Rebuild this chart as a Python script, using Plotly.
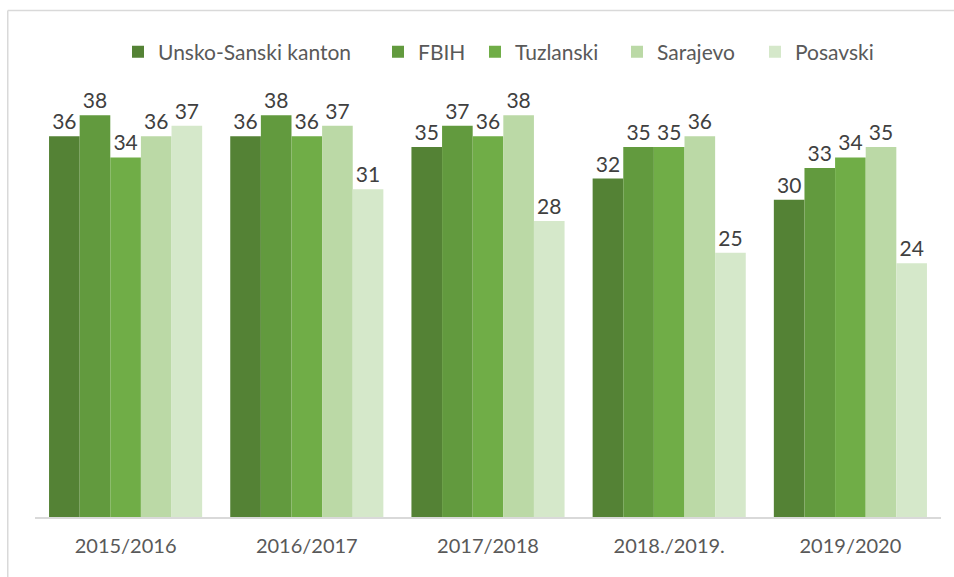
import plotly.graph_objects as go

categories = ["2015/2016", "2016/2017", "2017/2018", "2018./2019.", "2019/2020"]
series_names = ["Unsko-Sanski kanton", "FBIH", "Tuzlanski", "Sarajevo", "Posavski"]
unsko_sanski = [36, 36, 35, 32, 30]
fbih = [38, 38, 37, 35, 33]
tuzlanski = [34, 36, 36, 35, 34]
sarajevo = [36, 37, 38, 36, 35]
posavski = [37, 31, 28, 25, 24]
colors = ["#548235", "#629A3E", "#70AD47", "#BBD9A6", "#D5E8CA"]

values = [unsko_sanski, fbih, tuzlanski, sarajevo, posavski]

PL, PR, PT, PB = 35, 941, 94, 517  # target plot box in page px
W, H = 954, 577
l, t, r, b = PL, PT, W - PR, H - PB
pw = PR - PL
ph = PB - PT

def px_to_paper_x(px):
    return (px - PL) / pw

def py_to_paper_y(py):
    return (PB - py) / ph

legend_square_x = [135, 395, 492, 634, 772]
legend_names = ["legend", "legend2", "legend3", "legend4", "legend5"]

fig = go.Figure()
for i, (name, vals, col) in enumerate(zip(series_names, values, colors)):
    fig.add_trace(go.Bar(
        name=name, x=categories, y=vals, marker_color=col, marker_line_width=0,
        text=[str(v) for v in vals], textposition="outside", cliponaxis=False,
        textfont=dict(family="Lato, Open Sans, sans-serif", size=21, color="#404040"),
        legend=legend_names[i],
    ))

legend_layout = {}
for i, ln in enumerate(legend_names):
    legend_layout[ln] = dict(
        x=px_to_paper_x(legend_square_x[i] - 17), xanchor="left",
        y=py_to_paper_y(52), yanchor="middle",
        font=dict(size=21, color="#595959"), itemwidth=30,
        bgcolor="rgba(0,0,0,0)", borderwidth=0,
    )

border = dict(color="#D9D9D9", width=1.5)
fig.update_layout(
    width=W, height=H,
    margin=dict(l=l, r=r, t=t, b=b, autoexpand=False),
    paper_bgcolor="white", plot_bgcolor="white",
    barmode="group", bargap=0.155, bargroupgap=0,
    font=dict(family="Lato, Open Sans, sans-serif", color="#595959"),
    showlegend=True,
    xaxis=dict(showline=True, linecolor="#D9D9D9", linewidth=1.5, ticks="",
               tickfont=dict(size=20, color="#595959"), showgrid=False,
               ticklabelstandoff=10),
    yaxis=dict(range=[0, 40], visible=False, showgrid=False),
    shapes=[
        dict(type="line", xref="paper", yref="paper",
             x0=px_to_paper_x(7.75), x1=px_to_paper_x(7.75),
             y0=py_to_paper_y(10.5), y1=py_to_paper_y(H + 5), line=border),
        dict(type="line", xref="paper", yref="paper",
             x0=px_to_paper_x(7.75), x1=px_to_paper_x(W + 5),
             y0=py_to_paper_y(10.5), y1=py_to_paper_y(10.5), line=border),
    ],
    **legend_layout,
)

fig.write_html(
    "out.html",
    config={"displayModeBar": False},
    post_script="document.body.style.margin='0';document.body.style.overflow='hidden';",
)
